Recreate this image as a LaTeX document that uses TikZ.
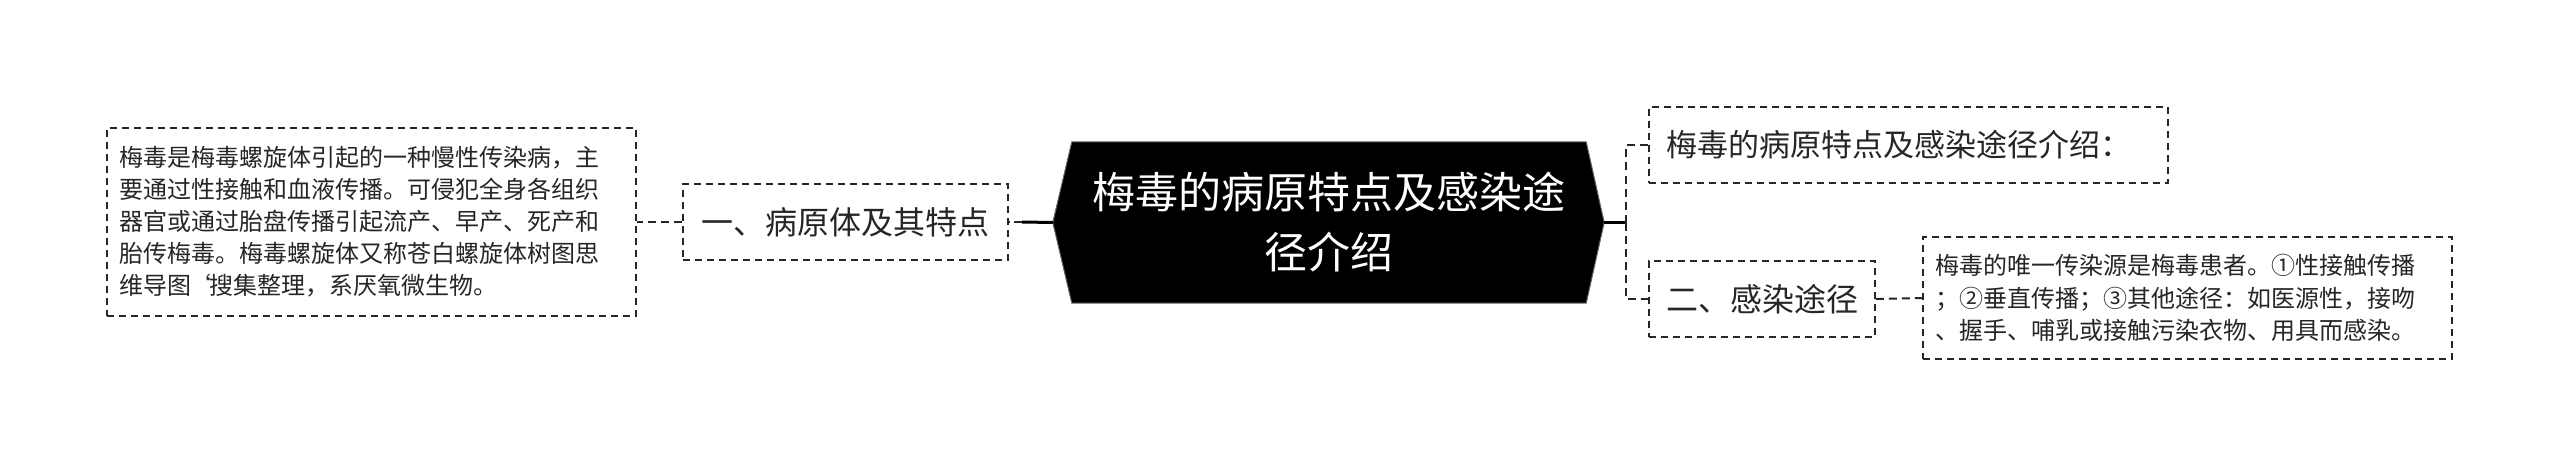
\documentclass[tikz,border=0pt]{standalone}
\usepackage{fontspec}
\setmainfont{Noto Sans CJK SC}
\usetikzlibrary{calc,backgrounds}
\begin{document}
\begin{tikzpicture}[x=1pt,y=-1pt,
  box/.style={draw=black!85, line width=1.6pt, dash pattern=on 7pt off 5pt, inner sep=0pt, text=black!85},
  link/.style={draw=black!85, line width=2.4pt, dash pattern=on 8pt off 5pt},
  solidlink/.style={draw=black, line width=3pt}]
\begin{scope}[on background layer]
\fill[white] (0,0) rectangle (2560,468);
\end{scope}
\useasboundingbox (0,0) rectangle (2560,468);

\node[inner sep=0pt, minimum width=551pt, minimum height=161pt, text width=530pt, align=center, text=white,
      font=\fontsize{43}{60}\selectfont] (center) at (1328.5,222.5)
  {梅毒的病原特点及感染途\\径介绍};
\begin{scope}[on background layer]
\fill[black] (center.west) -- ($(center.north west)+(19,0)$) -- ($(center.north east)+(-18,0)$)
  -- (center.east) -- ($(center.south east)+(-18,0)$) -- ($(center.south west)+(19,0)$) -- cycle;
\draw[black!60, line width=1pt] (center.west) -- ($(center.north west)+(19,0)$) -- ($(center.north east)+(-18,0)$)
  -- (center.east) -- ($(center.south east)+(-18,0)$) -- ($(center.south west)+(19,0)$) -- cycle;
\end{scope}

\node[box, minimum width=325pt, minimum height=76pt, font=\fontsize{32}{40}\selectfont] (b1) at (845.5,222)
  {一、病原体及其特点};
\node[box, minimum width=529pt, minimum height=188pt, text width=504pt, align=left,
      font=\fontsize{24}{32}\selectfont] (leftbox) at (371.5,222)
  {梅毒是梅毒螺旋体引起的一种慢性传染病，主\\
   要通过性接触和血液传播。可侵犯全身各组织\\
   器官或通过胎盘传播引起流产、早产、死产和\\
   胎传梅毒。梅毒螺旋体又称苍白螺旋体树图思\\
   维导图\kern-4pt\char96\kern-2pt 搜集整理，系厌氧微生物。};

\node[box, minimum width=519pt, minimum height=76pt, text width=485pt, align=left,
      font=\fontsize{31}{40}\selectfont] (top) at (1908.5,145)
  {梅毒的病原特点及感染途径介绍：};
\node[box, minimum width=226pt, minimum height=76pt, font=\fontsize{32}{40}\selectfont] (b2) at (1762,299)
  {二、感染途径};
\node[box, minimum width=529pt, minimum height=122pt, text width=504pt, align=left,
      font=\fontsize{24}{32.5}\selectfont] (detail) at (2187.5,298)
  {梅毒的唯一传染源是梅毒患者。①性接触传播\\
   ；②垂直传播；③其他途径：如医源性，接吻\\
   、握手、哺乳或接触污染衣物、用具而感染。};

\coordinate (lj) at (1022,222);
\coordinate (rj) at (1626,222.5);
\draw[solidlink] (center.west) -- (lj);
\draw[link] (lj) -- (b1.east);
\draw[link, line width=2pt] (b1.west) -- (leftbox.east);
\draw[solidlink] (center.east) -- (rj);
\draw[link] (rj) |- (top.west);
\draw[link] (rj) |- (b2.west);
\draw[link, line width=2pt] (b2.east) -- (detail.west);
\end{tikzpicture}
\end{document}
